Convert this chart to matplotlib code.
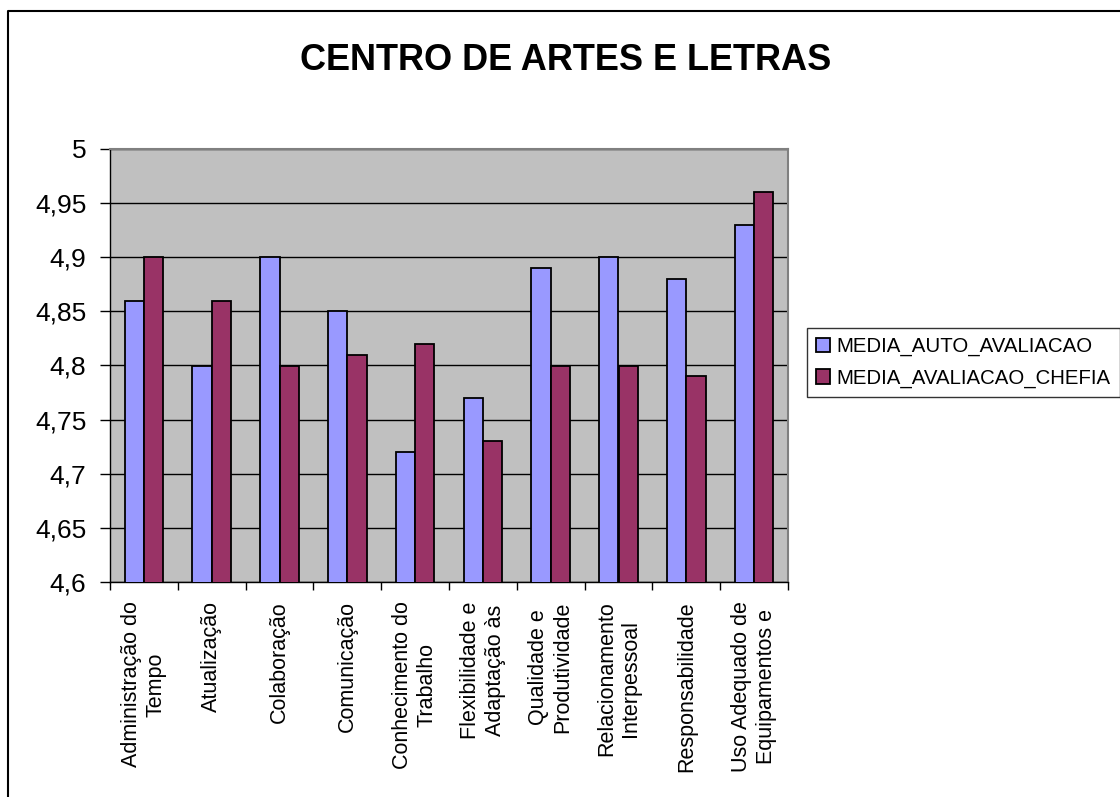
import matplotlib
matplotlib.use("Agg")
import matplotlib.pyplot as plt
from matplotlib.lines import Line2D
from matplotlib.ticker import FuncFormatter, MultipleLocator
import numpy as np

plt.rcParams["font.family"] = ["Liberation Sans", "DejaVu Sans"]

TITLE = "CENTRO DE ARTES E LETRAS"
categories = [
    "Administração do\nTempo",
    "Atualização",
    "Colaboração",
    "Comunicação",
    "Conhecimento do\nTrabalho",
    "Flexibilidade e\nAdaptação às",
    "Qualidade e\nProdutividade",
    "Relacionamento\nInterpessoal",
    "Responsabilidade",
    "Uso Adequado de\nEquipamentos e",
]
auto_avaliacao   = [4.86, 4.80, 4.90, 4.85, 4.72, 4.77, 4.89, 4.90, 4.88, 4.93]
avaliacao_chefia = [4.90, 4.86, 4.80, 4.81, 4.82, 4.73, 4.80, 4.80, 4.79, 4.96]
series_names = ["MEDIA_AUTO_AVALIACAO", "MEDIA_AVALIACAO_CHEFIA"]
colors = ["#9999FF", "#993366"]

W, H = 1120, 797
fig = plt.figure(figsize=(W / 100, H / 100), dpi=100)
ax = fig.add_axes([110 / W, 1 - 582 / H, (788 - 110) / W, (582 - 149) / H])
ax.set_facecolor("#C0C0C0")

x = np.arange(len(categories))
bw = 1 / 3.5
ax.bar(x - bw / 2, auto_avaliacao, bw, color=colors[0],
       edgecolor="black", linewidth=1.3, label=series_names[0], zorder=3)
ax.bar(x + bw / 2, avaliacao_chefia, bw, color=colors[1],
       edgecolor="black", linewidth=1.3, label=series_names[1], zorder=3)

ax.set_ylim(4.6, 5.0)
ax.set_xlim(-0.5, len(categories) - 0.5)
ax.yaxis.set_major_locator(MultipleLocator(0.05))
ax.yaxis.set_major_formatter(FuncFormatter(lambda v, _: f"{round(v, 2):g}".replace(".", ",")))
ax.yaxis.grid(True, color="black", linewidth=1, zorder=1)
ax.set_axisbelow(True)
ax.tick_params(axis="y", direction="out", length=7, width=1, pad=10,
               labelsize=19, colors="black")

ax.set_xticks(x)
ax.set_xticklabels(categories, rotation=90, ha="center", va="top",
                   multialignment="center", fontsize=15.5, linespacing=1.2)
ax.tick_params(axis="x", which="major", length=0, pad=14)
ax.set_xticks(np.arange(-0.5, len(categories)), minor=True)
ax.tick_params(axis="x", which="minor", direction="out", length=6, width=1)

for side in ("left", "bottom"):
    ax.spines[side].set_color("black")
    ax.spines[side].set_linewidth(1)
for side in ("top", "right"):
    ax.spines[side].set_color("#808080")
    ax.spines[side].set_linewidth(1.5)

fig.text(566 / W, 1 - 60 / H, TITLE, ha="center", va="center",
         fontsize=26, fontweight="bold")

leg = fig.legend(loc="upper left", bbox_to_anchor=(807 / W, 1 - 328 / H),
                 fontsize=14.7, frameon=True, fancybox=False,
                 handlelength=0.7, handleheight=0.7, handletextpad=0.3,
                 borderpad=0.45, labelspacing=0.6, borderaxespad=0)
leg.get_frame().set_edgecolor("black")
leg.get_frame().set_linewidth(1)

# outer chart-area border (left and top edges only visible)
fig.add_artist(Line2D([8 / W, 8 / W, 1], [0, 1 - 11 / H, 1 - 11 / H],
                      transform=fig.transFigure, color="black", linewidth=1.5))

fig.savefig("out.png", dpi=100)
